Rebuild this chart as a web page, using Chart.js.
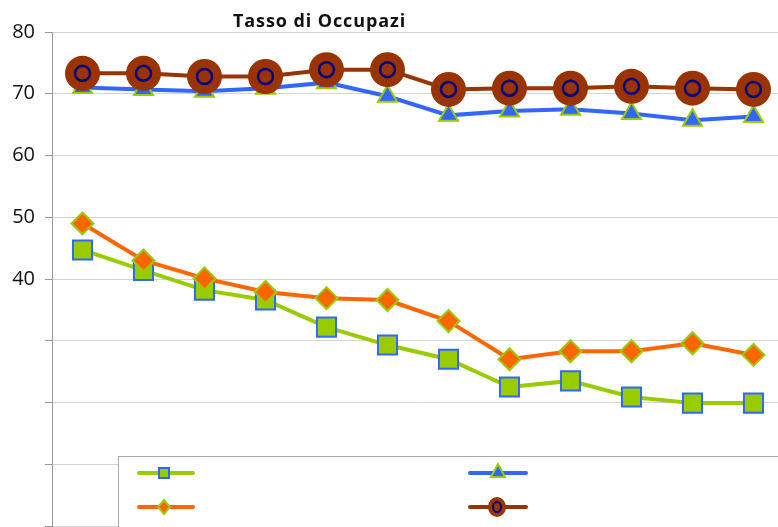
<!DOCTYPE html>
<html>
<head>
<meta charset="utf-8">
<script src="https://cdn.jsdelivr.net/npm/chart.js@4"></script>
<style>
  html, body { margin: 0; padding: 0; overflow: hidden; background: #fff; }
  #wrap { position: relative; width: 784px; height: 527px; }
  #title {
    position: absolute; left: 233px; top: 8px;
    font: bold 18px "Open Sans", sans-serif; letter-spacing: 0.9px;
    color: #111; white-space: nowrap;
  }
  #legend {
    position: absolute; left: 118px; top: 456px; width: 700px; height: 100px;
    background: #fff; border: 1px solid #aaa;
  }
  #legend svg { position: absolute; left: 0; top: 0; }
</style>
</head>
<body>
<div id="wrap">
  <canvas id="chart" width="784" height="527"></canvas>
  <div id="title">Tasso di Occupazi</div>
  <div id="legend">
    <svg width="500" height="70">
      <!-- row 1 -->
      <line x1="20" y1="16" x2="74" y2="16" stroke="#99cc00" stroke-width="4" stroke-linecap="round"/>
      <rect x="40" y="11" width="10" height="10" fill="#99cc00" stroke="#3366ff" stroke-width="2"/>
      <line x1="351" y1="16" x2="407" y2="16" stroke="#3366ff" stroke-width="4" stroke-linecap="round"/>
      <polygon points="379,7 386,20 372,20" fill="#3366ff" stroke="#99cc00" stroke-width="2"/>
      <!-- row 2 -->
      <line x1="20" y1="50" x2="74" y2="50" stroke="#ff6600" stroke-width="4" stroke-linecap="round"/>
      <polygon points="45,43 51,50 45,57 39,50" fill="#ff6600" stroke="#99cc00" stroke-width="2"/>
      <line x1="351" y1="50" x2="407" y2="50" stroke="#993300" stroke-width="4" stroke-linecap="round"/>
      <ellipse cx="378" cy="50" rx="9" ry="10" fill="#993300"/>
      <ellipse cx="378" cy="50" rx="4" ry="5" fill="none" stroke="#000080" stroke-width="2"/>
    </svg>
  </div>
</div>
<script>
// DATA
const categories = ["1", "2", "3", "4", "5", "6", "7", "8", "9", "10", "11", "12"];
const seriesA = [44.7, 41.4, 38.2, 36.6, 32.2, 29.3, 27.0, 22.5, 23.5, 20.9, 19.9, 19.9];
const seriesB = [49.0, 43.0, 40.1, 37.9, 36.9, 36.6, 33.2, 27.0, 28.3, 28.3, 29.6, 27.7];
const seriesC = [71.0, 70.7, 70.4, 70.9, 71.8, 69.6, 66.5, 67.2, 67.5, 66.8, 65.7, 66.3];
const seriesD = [73.3, 73.3, 72.8, 72.8, 73.9, 73.9, 70.7, 70.9, 70.9, 71.2, 70.9, 70.7];
const yTicks = [0, 10, 20, 30, 40, 50, 60, 70, 80];
const shownTicks = [40, 50, 60, 70, 80];

const ctx = document.getElementById("chart");

new Chart(ctx, {
  type: "line",
  data: {
    labels: categories,
    datasets: [
      {
        data: seriesA,
        order: 5,
        borderColor: "#99cc00",
        borderWidth: 4,
        pointStyle: "rect",
        pointRadius: 13.5,
        pointBackgroundColor: "#99cc00",
        pointBorderColor: "#3366ff",
        pointBorderWidth: 2,
      },
      {
        data: seriesB,
        order: 4,
        borderColor: "#ff6600",
        borderWidth: 4,
        pointStyle: "rectRot",
        pointRadius: 11,
        pointBackgroundColor: "#ff6600",
        pointBorderColor: "#99cc00",
        pointBorderWidth: 2,
      },
      {
        data: seriesC,
        order: 3,
        borderColor: "#3366ff",
        borderWidth: 4,
        pointStyle: "triangle",
        pointRadius: 11,
        pointBackgroundColor: "#3366ff",
        pointBorderColor: "#99cc00",
        pointBorderWidth: 2,
      },
      {
        data: seriesD,
        order: 2,
        borderColor: "#993300",
        borderWidth: 4,
        pointStyle: "circle",
        pointRadius: 17.5,
        pointBackgroundColor: "#993300",
        pointBorderColor: "#993300",
        pointBorderWidth: 0,
      },
      {
        // inner ring of the circle markers
        data: seriesD,
        order: 1,
        showLine: false,
        pointStyle: "circle",
        pointRadius: 7.5,
        pointBackgroundColor: "rgba(0,0,0,0)",
        pointBorderColor: "#000080",
        pointBorderWidth: 2.5,
      },
    ],
  },
  options: {
    responsive: false,
    animation: false,
    layout: { autoPadding: false, padding: { top: 32, bottom: 1, left: 0, right: 0 } },
    plugins: {
      legend: { display: false },
      tooltip: { enabled: false },
      title: { display: false },
    },
    scales: {
      x: {
        display: false,
        offset: true,
      },
      y: {
        min: 0,
        max: 80,
        afterBuildTicks: (scale) => {
          scale.ticks = yTicks.map((v) => ({ value: v }));
        },
        afterFit: (scale) => {
          scale.width = 52;
          scale.paddingTop = 0;
          scale.paddingBottom = 0;
        },
        border: { display: true, color: "#999", width: 1 },
        grid: { color: "#d4d4d4", lineWidth: 1, tickLength: 7, tickColor: "#999" },
        ticks: {
          padding: 10,
          color: "#111",
          font: { family: "Open Sans", size: 20 },
          callback: (v) => (shownTicks.includes(v) ? String(v) : ""),
        },
      },
    },
  },
});
</script>
</body>
</html>
